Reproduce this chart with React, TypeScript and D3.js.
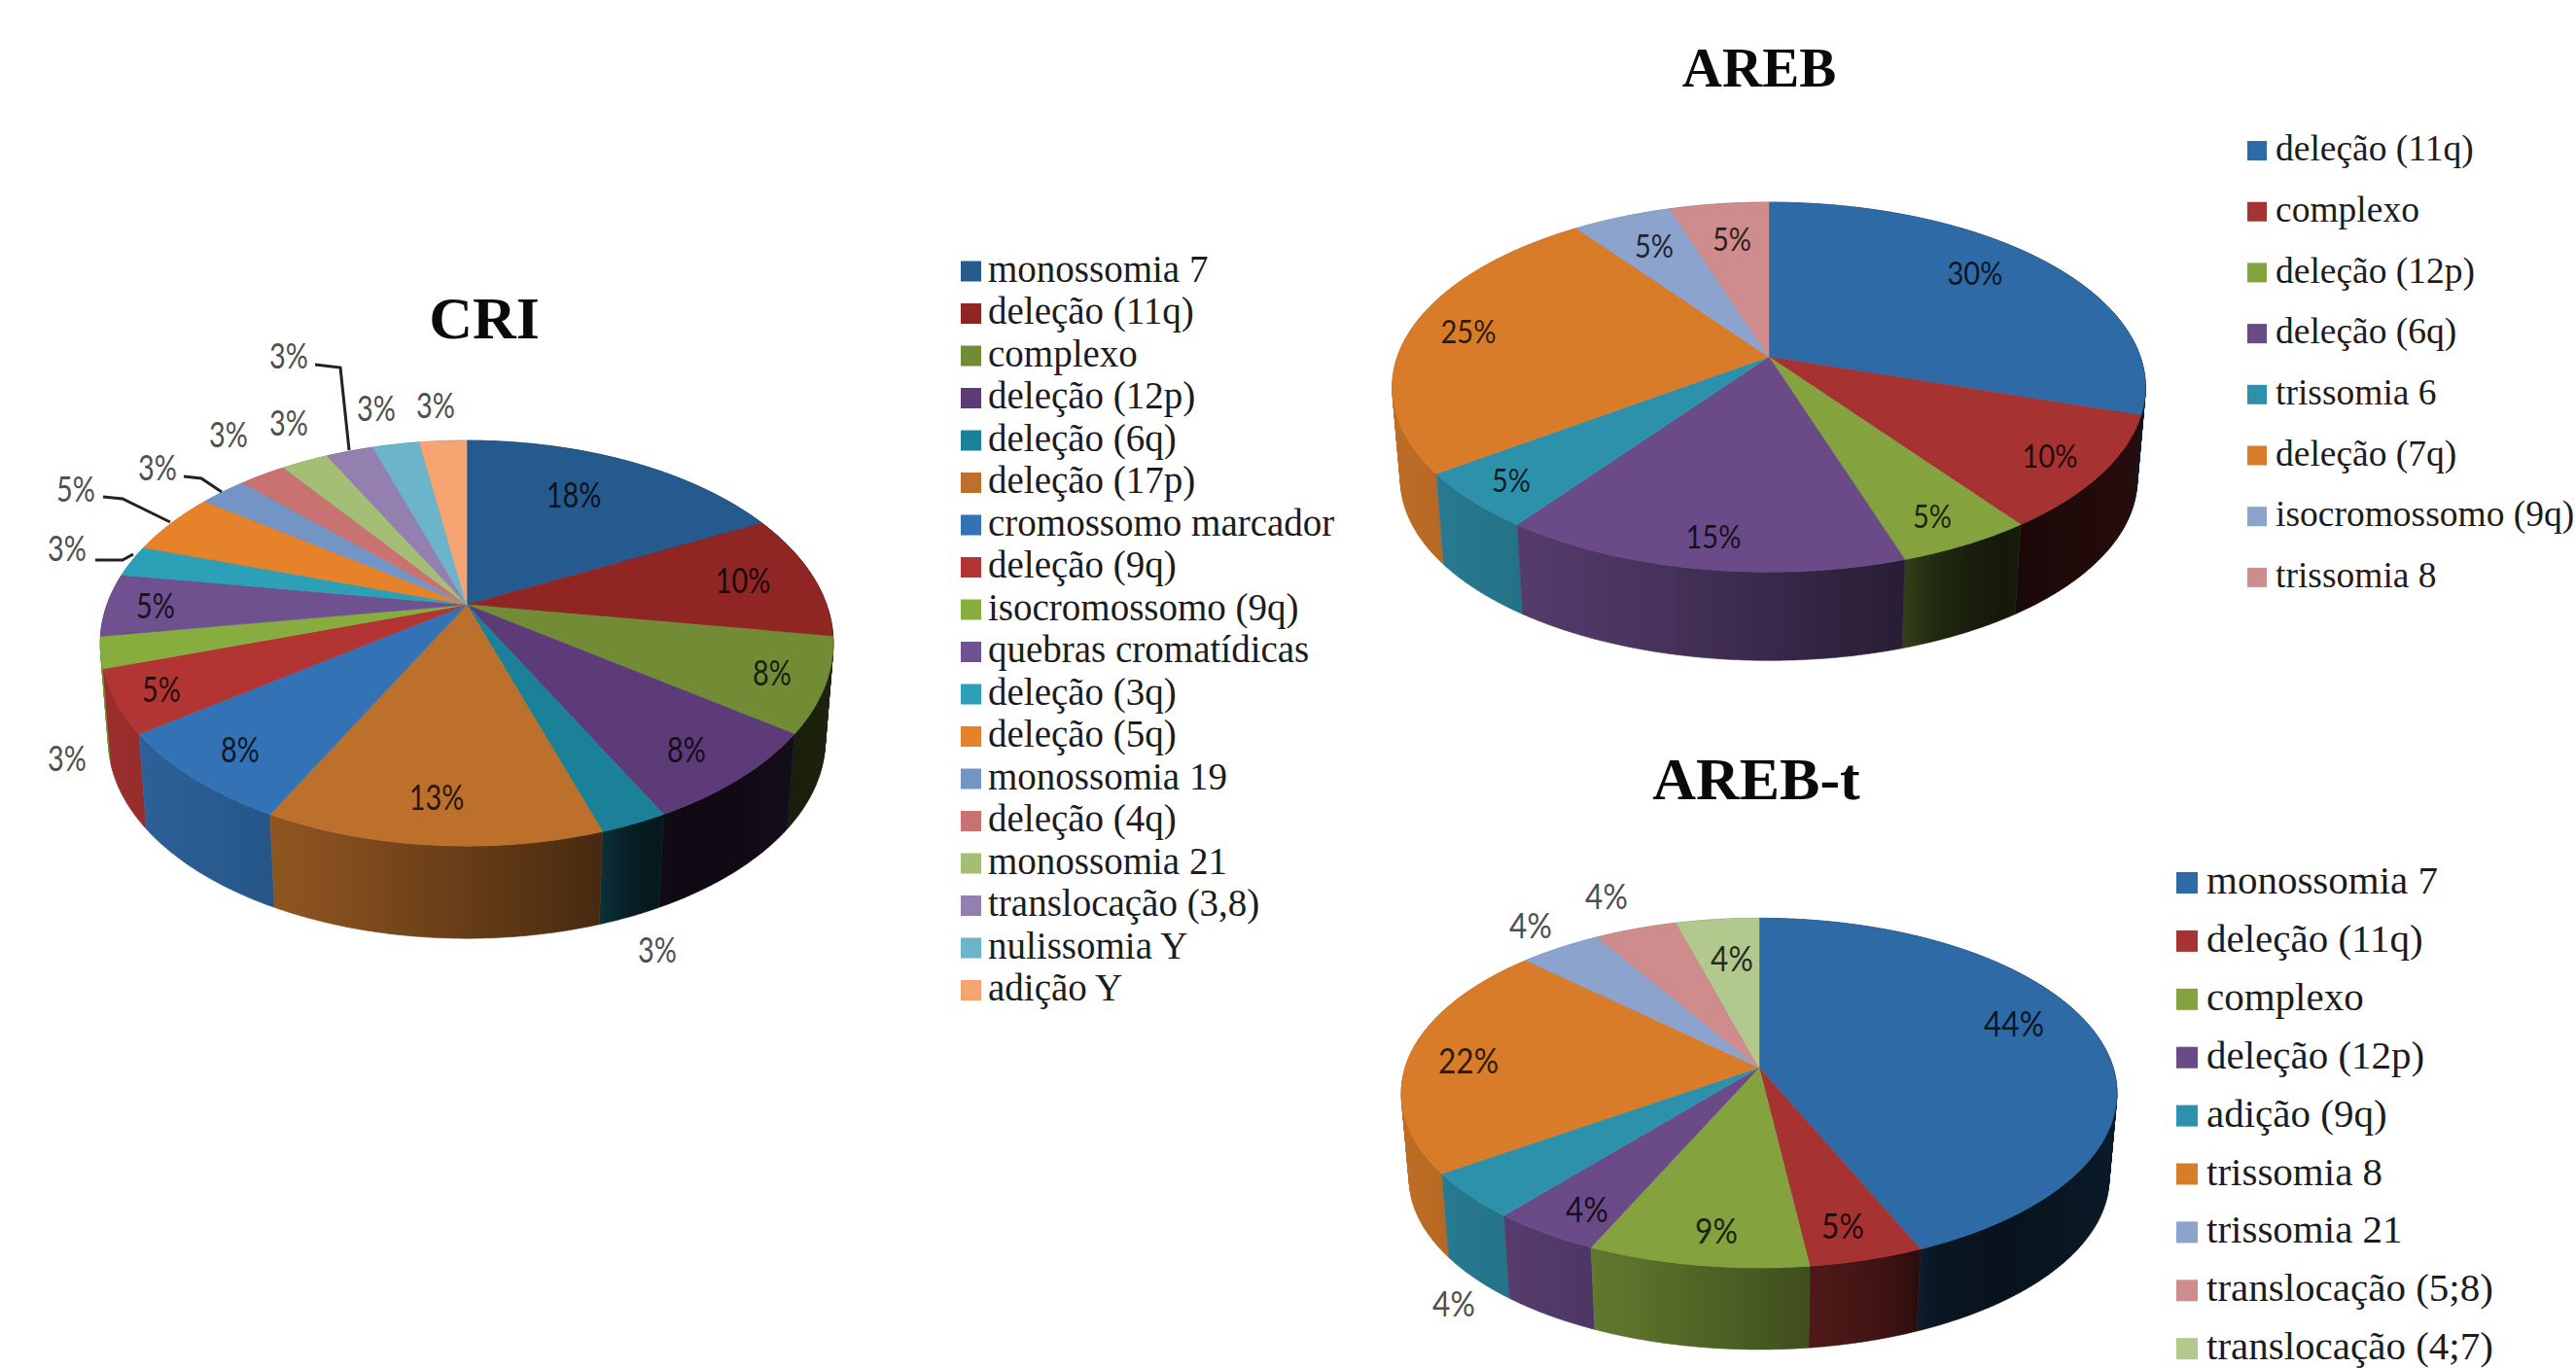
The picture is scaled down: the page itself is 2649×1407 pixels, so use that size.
import * as d3 from "d3";

// Cytogenetic abnormalities per group (percent of cases).
const criCategories = ["monossomia 7","deleção (11q)","complexo","deleção (12p)","deleção (6q)","deleção (17p)","cromossomo marcador","deleção (9q)","isocromossomo (9q)","quebras cromatídicas","deleção (3q)","deleção (5q)","monossomia 19","deleção (4q)","monossomia 21","translocação (3,8)","nulissomia Y","adição Y"];
const criValues = [17.5,10,7.5,7.5,2.5,12.5,7.5,5,2.5,5,2.5,5,2.5,2.5,2.5,2.5,2.5,2.5];
const criColors = ["#255a8f","#8f2623","#728c36","#5c3b78","#1a8198","#bd702b","#3372b4","#b23534","#88ad3f","#70518f","#2ba0b6","#e5822a","#7295c6","#c87371","#a5be75","#9480b0","#6cb4c9","#f6a572"];

const arebCategories = ["deleção (11q)","complexo","deleção (12p)","deleção (6q)","trissomia 6","deleção (7q)","isocromossomo (9q)","trissomia 8"];
const arebValues = [30,10,5,15,5,25,5,5];
const arebColors = ["#2e6ba6","#a63232","#84a33e","#6a4b88","#2e91ab","#d97c2a","#8ba3cd","#ce8c8c"];

const arebtCategories = ["monossomia 7","deleção (11q)","complexo","deleção (12p)","adição (9q)","trissomia 8","trissomia 21","translocação (5;8)","translocação (4;7)"];
const arebtValues = [43.5,4.5,8.7,4.3,4.3,21.7,4.3,4.3,4.3];
const arebtColors = ["#2e6ba6","#a63232","#84a33e","#6a4b88","#2e91ab","#d97c2a","#8ba3cd","#ce8c8c","#b1c98d"];

// Hand-placed label centres; a third entry marks labels set beside the pie in grey.
const criLabelSpots = [[590,508],[764,596],[794,691],[706,770],[676,976,1],[449,819],[247,770],[166,708],[69,779,1],[160,622],[69,563,1],[78,502,1],[162,480,1],[235,446,1],[297,434,1],[297,365,1],[387,419,1],[448,416,1]];
const arebLabelSpots = [[2031,280],[2108,468],[1987,530],[1762,551],[1554,493],[1510,340],[1701,252],[1781,245]];
const arebtLabelSpots = [[2071,1052],[1895,1260],[1765,1265],[1632,1243],[1495,1340,1],[1510,1090],[1574,951,1],[1652,921,1],[1781,985]];

const criLeaders = [
  [[324,375],[350,378],[359,463]],
  [[189,490],[207,492],[228,506]],
  [[106,511],[126,513],[175,537]],
  [[98,576],[126,576],[137,570]],
];

const SERIF = "'Liberation Serif', serif";
const LABEL_FONT = "Lato, sans-serif";

// Wall brightness falls off from left to right across the pie.
const wallShade = d3.scaleLinear().domain([0, 0.3, 0.68, 0.72, 0.8, 1]).range([0.88, 0.72, 0.38, 0.24, 0.15, 0.25]).clamp(true);

function darken(color: string, f: number) {
  const c = d3.rgb(color);
  return d3.rgb(c.r * f, c.g * f, c.b * f).formatHex();
}

function Pie3D({ id, geo, values, colors, spots, labelSize, labelStretch }: any) {
  const { cx, cy, rx, ry, k, depth, shrink } = geo;
  const slices = d3.pie<number>().sort(null).value((d) => d)(values);

  // Perspective projection of a point on the pie's top face.
  const project = (a: number, r = 1): [number, number] => {
    const s = -Math.cos(a) * r;
    const d = 1 - k * s;
    return [cx + (rx * r * Math.sin(a)) / d, cy + (ry * s) / d];
  };
  // The base lies further from the eye, so it is a little smaller.
  const front = ry / (1 - k);
  const drop = depth + (1 - shrink) * front;
  const base = (p: [number, number]): [number, number] => [cx + (p[0] - cx) * shrink, cy + drop + (p[1] - cy) * shrink];

  const line = d3.line();
  const arcPoints = (a0: number, a1: number) => {
    const n = Math.max(2, Math.ceil((a1 - a0) / 0.01));
    return d3.range(n + 1).map((i) => project(a0 + ((a1 - a0) * i) / n));
  };
  // A wall is a strip of quads, all wound the same way so that the
  // fold at the pie's silhouette stays filled.
  const wallPath = (top: [number, number][]) =>
    d3.pairs(top).map(([p, q]) => {
      const quad = [p, q, base(q), base(p)] as [number, number][];
      return line(d3.polygonArea(quad) < 0 ? quad.reverse() : quad) + "Z";
    }).join("");
  const left = project(-Math.PI / 2)[0] - rx * 0.03;
  const width = rx * 2.06;

  // Walls go back to front, so nearer ones cover the farther ones.
  const order = slices.map((s, i) => ({ s, i })).sort((p, q) => {
    const m = (o: any) => -Math.cos((o.s.startAngle + o.s.endAngle) / 2);
    return m(p) - m(q);
  });

  return (
    <g>
      <defs>
        {slices.map((s, i) => {
          const pts = arcPoints(s.startAngle, s.endAngle);
          const xs = pts.map((p) => p[0]);
          const x0 = d3.min(xs) as number;
          const x1 = d3.max(xs) as number;
          return (
            <linearGradient key={i} id={`${id}-w${i}`} gradientUnits="userSpaceOnUse" x1={x0} x2={Math.max(x1, x0 + 1)} y1={0} y2={0}>
              {d3.range(7).map((j) => {
                const f = j / 6;
                return <stop key={j} offset={f} stopColor={darken(colors[i], wallShade((x0 + (x1 - x0) * f - left) / width))} />;
              })}
            </linearGradient>
          );
        })}
      </defs>
      {order.map(({ s, i }) => (
        <path key={i} d={wallPath(arcPoints(s.startAngle, s.endAngle))} fill={`url(#${id}-w${i})`} stroke={`url(#${id}-w${i})`} strokeWidth={0.6} />
      ))}
      {slices.map((s, i) => (
        <path key={i} d={line([[cx, cy], ...arcPoints(s.startAngle, s.endAngle)]) + "Z"} fill={colors[i]} stroke={colors[i]} strokeWidth={0.6} />
      ))}
      {slices.map((s, i) => {
        const [x, y, out] = spots[i];
        return (
          <text
            key={i}
            transform={`translate(${x},${y}) scale(${labelStretch},1)`}
            textAnchor="middle"
            dominantBaseline="central"
            fontFamily={LABEL_FONT}
            fontSize={labelSize}
            fill={out ? "#4f4f4f" : "#000"}
            fillOpacity={out ? 1 : 0.8}
          >
            {Math.round(s.data)}%
          </text>
        );
      })}
    </g>
  );
}

function Legend({ items, colors, x, textX, y, step, box, size }: any) {
  return (
    <g>
      {items.map((name: string, i: number) => (
        <g key={name}>
          <rect x={x} y={y + i * step - box / 2} width={box} height={box} fill={colors[i]} />
          <text x={textX} y={y + i * step + size * 0.27} fontFamily={SERIF} fontSize={size} fill="#1c1c1c">
            {name}
          </text>
        </g>
      ))}
    </g>
  );
}

function Title({ x, y, size, children }: any) {
  return (
    <text x={x} y={y} textAnchor="middle" fontFamily={SERIF} fontWeight="bold" fontSize={size} fill="#0a0a0a">
      {children}
    </text>
  );
}

export default function App() {
  const leader = d3.line();
  return (
    <svg width={2649} height={1407} viewBox="0 0 2649 1407" style={{ position: "absolute", left: 0, top: 0, background: "#fff", display: "block" }}>
      <Title x={498} y={348} size={62}>CRI</Title>
      <Pie3D id="cri" geo={{ cx: 480, cy: 622, rx: 370, ry: 201, k: 0.19, depth: 95, shrink: 0.978 }} values={criValues} colors={criColors} spots={criLabelSpots} labelSize={36} labelStretch={0.8} />
      {criLeaders.map((pts, i) => (
        <path key={i} d={leader(pts as any) as string} fill="none" stroke="#222" strokeWidth={3} />
      ))}
      <Legend items={criCategories} colors={criColors} x={988} textX={1016} y={279} step={43.5} box={21} size={39} />

      <Title x={1809} y={89} size={57}>AREB</Title>
      <Pie3D id="areb" geo={{ cx: 1819, cy: 367, rx: 382, ry: 185, k: 0.164, depth: 91, shrink: 0.978 }} values={arebValues} colors={arebColors} spots={arebLabelSpots} labelSize={33} labelStretch={0.88} />
      <Legend items={arebCategories} colors={arebColors} x={2311} textX={2340} y={155} step={62.7} box={20} size={37.5} />

      <Title x={1806} y={822} size={62}>AREB-t</Title>
      <Pie3D id="arebt" geo={{ cx: 1809, cy: 1098, rx: 364, ry: 176, k: 0.1455, depth: 84, shrink: 0.978 }} values={arebtValues} colors={arebtColors} spots={arebtLabelSpots} labelSize={36} labelStretch={0.88} />
      <Legend items={arebtCategories} colors={arebtColors} x={2238} textX={2269} y={908} step={59.9} box={22} size={41} />
    </svg>
  );
}
